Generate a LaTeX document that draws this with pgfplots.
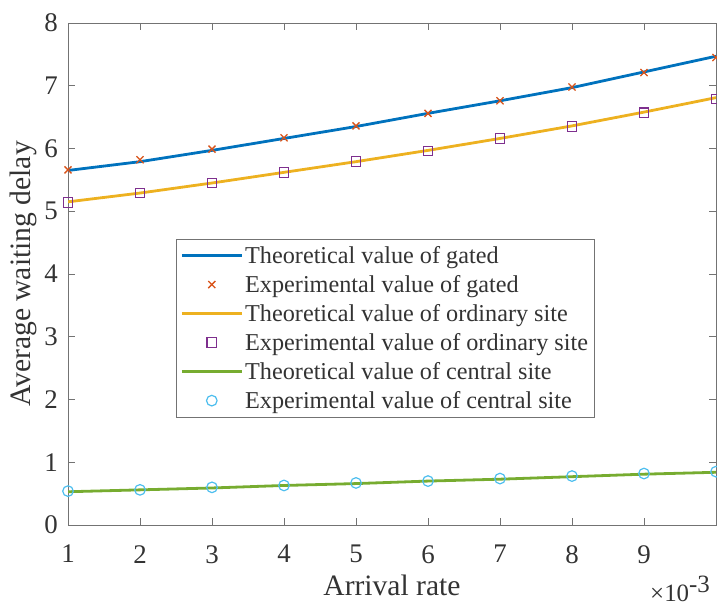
\documentclass[border=0pt]{standalone}
\usepackage{fontspec}
\setmainfont{Liberation Serif}
\usepackage{pgfplots}
\pgfplotsset{compat=1.18}
\definecolor{mblue}{rgb}{0,0.447,0.741}
\definecolor{morange}{rgb}{0.85,0.325,0.098}
\definecolor{myellow}{rgb}{0.929,0.694,0.125}
\definecolor{mpurple}{rgb}{0.494,0.184,0.556}
\definecolor{mgreen}{rgb}{0.466,0.674,0.188}
\definecolor{mcyan}{rgb}{0.301,0.745,0.933}
\definecolor{axgray}{rgb}{0.45,0.45,0.45}
\definecolor{txtgray}{rgb}{0.2,0.2,0.2}
\begin{document}
\begin{tikzpicture}
\path[use as bounding box] (-68bp,-79bp) rectangle (649bp,525bp);
\begin{axis}[
  at={(0,0)}, anchor=south west,
  scale only axis, width=648bp, height=502bp,
  xmin=1, xmax=10, ymin=0, ymax=8,
  xtick={1,...,9}, ytick={0,...,8},
  tick align=inside, major tick length=7bp,
  axis line style={axgray, line width=0.8bp},
  every tick/.style={axgray, line width=0.8bp},
  /pgf/number format/assume math mode=true,
  tick label style={font=\fontsize{27}{30}\selectfont, text=txtgray},
  xticklabel style={inner sep=0pt, anchor=north, yshift=-20bp},
  yticklabel style={inner sep=0pt, anchor=east, xshift=-10bp},
  xlabel={Arrival rate}, ylabel={Average waiting delay},
  every axis x label/.style={at={(rel axis cs:0.5,0)}, yshift=-60bp, anchor=center,
    font=\fontsize{29.7}{32}\selectfont, text=txtgray},
  every axis y label/.style={at={(rel axis cs:0,0.5)}, xshift=-45bp, rotate=90, anchor=center,
    font=\fontsize{29.7}{32}\selectfont, text=txtgray},
  legend style={at={(axis cs:2.5,4.56)}, anchor=north west, draw=axgray, line width=0.8bp,
    fill=white, font=\fontsize{24.3}{29}\selectfont, text=txtgray, row sep=6.5bp,
    inner xsep=4bp, inner ysep=5bp, cells={anchor=west}},
  legend image code/.code={\draw[mark repeat=2,mark phase=2,#1] plot coordinates {(0bp,0bp) (30bp,0bp) (60bp,0bp)};},
  clip marker paths=false,
]
\addplot[mblue, line width=2.8bp] coordinates {(1,5.65) (2,5.79) (3,5.97) (4,6.16) (5,6.35) (6,6.56) (7,6.76) (8,6.97) (9,7.22) (10,7.47)};
\addlegendentry{Theoretical value of gated}
\addplot[only marks, mark=x, mark size=5bp, morange, line width=1.3bp] coordinates {(1,5.66) (2,5.82) (3,5.99) (4,6.17) (5,6.36) (6,6.56) (7,6.76) (8,6.98) (9,7.21) (10,7.45)};
\addlegendentry{Experimental value of gated}
\addplot[myellow, line width=2.8bp] coordinates {(1,5.15) (2,5.29) (3,5.45) (4,5.62) (5,5.79) (6,5.97) (7,6.16) (8,6.36) (9,6.58) (10,6.81)};
\addlegendentry{Theoretical value of ordinary site}
\addplot[only marks, mark=square, mark size=4.8bp, mpurple, line width=1.2bp] coordinates {(1,5.14) (2,5.29) (3,5.45) (4,5.62) (5,5.79) (6,5.96) (7,6.16) (8,6.35) (9,6.57) (10,6.79)};
\addlegendentry{Experimental value of ordinary site}
\addplot[mgreen, line width=2.8bp] coordinates {(1,0.53) (2,0.56) (3,0.59) (4,0.63) (5,0.66) (6,0.70) (7,0.73) (8,0.77) (9,0.81) (10,0.84)};
\addlegendentry{Theoretical value of central site}
\addplot[only marks, mark=o, mark size=5.3bp, mcyan, line width=1.2bp] coordinates {(1,0.54) (2,0.56) (3,0.60) (4,0.63) (5,0.67) (6,0.70) (7,0.74) (8,0.78) (9,0.82) (10,0.85)};
\addlegendentry{Experimental value of central site}
\end{axis}
\node[anchor=base west, inner sep=0pt, text=txtgray, font=\fontsize{25}{28}\selectfont] at (582bp,-76bp) {×10$^{\textrm{-3}}$};
\end{tikzpicture}
\end{document}
